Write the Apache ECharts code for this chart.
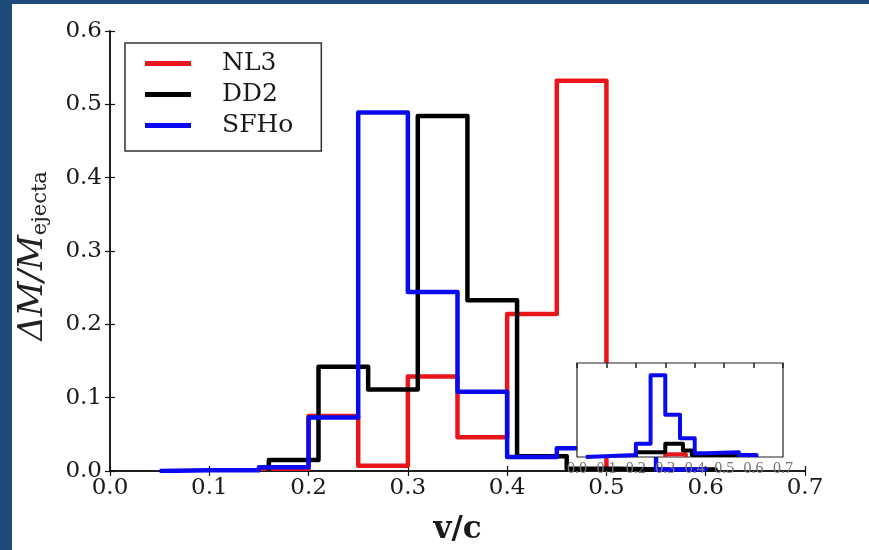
<!DOCTYPE html>
<html>
<head>
<meta charset="utf-8">
<script src="https://cdn.jsdelivr.net/npm/echarts@6/dist/echarts.min.js"></script>
<style>
html,body{margin:0;padding:0;background:#1f4a7c;}
#chart{width:869px;height:550px;}
</style>
</head>
<body>
<div id="chart"></div>
<script>
// ---- data (bin edges and bin values) ----
const seriesNames = ['NL3', 'DD2', 'SFHo'];
const edgesNL3 = [0.15, 0.20, 0.25, 0.30, 0.35, 0.40, 0.45, 0.50];
const valsNL3  = [0.003, 0.075, 0.007, 0.129, 0.046, 0.214, 0.532];
const edgesDD2 = [0.16, 0.21, 0.26, 0.31, 0.36, 0.41, 0.46, 0.51, 0.56, 0.61];
const valsDD2  = [0.015, 0.142, 0.111, 0.484, 0.233, 0.020, 0.003, 0.002, 0.002];
const edgesSFHo = [0.05, 0.10, 0.15, 0.20, 0.25, 0.30, 0.35, 0.40, 0.45, 0.50, 0.55, 0.60];
const valsSFHo  = [0.001, 0.001, 0.005, 0.073, 0.489, 0.244, 0.108, 0.019, 0.031, 0.031, 0.002];

// inset (arbitrary units, no y labels)
const insetEdgesNL3 = [0.30, 0.37];
const insetValsNL3  = [0.03];
const insetEdgesDD2 = [0.20, 0.30, 0.36, 0.39, 0.45, 0.60];
const insetValsDD2  = [0.05, 0.14, 0.07, 0.02, 0.02];
const insetEdgesSFHo = [0.03, 0.20, 0.25, 0.30, 0.35, 0.40, 0.44, 0.55, 0.61];
const insetValsSFHo  = [0.02, 0.14, 0.87, 0.45, 0.20, 0.04, 0.05, 0.02];

const xTicks = ['0.0','0.1','0.2','0.3','0.4','0.5','0.6','0.7'];
const yTicks = ['0.0','0.1','0.2','0.3','0.4','0.5','0.6'];

const colors = ['#e8161b', '#000000', '#0a0af0'];

function stepPoints(edges, vals) {
  const pts = [[edges[0], 0]];
  for (let i = 0; i < vals.length; i++) pts.push([edges[i], vals[i]]);
  pts.push([edges[edges.length - 1], 0]);
  return pts;
}

const serif = 'DejaVu Serif';
const chart = echarts.init(document.getElementById('chart'));

function mainSeries(name, edges, vals, color) {
  return {
    name: name, type: 'line', step: 'end', xAxisIndex: 0, yAxisIndex: 0,
    data: stepPoints(edges, vals), showSymbol: false, symbol: 'none',
    lineStyle: {color: color, width: 4.5, join: 'round'}, itemStyle: {color: color},
    z: 2, animation: false
  };
}
function insetSeries(edges, vals, color) {
  return {
    type: 'line', step: 'end', xAxisIndex: 2, yAxisIndex: 2,
    data: stepPoints(edges, vals), showSymbol: false, symbol: 'none',
    lineStyle: {color: color, width: 4, join: 'round'},
    z: 12, animation: false, silent: true
  };
}

chart.setOption({
  animation: false,
  backgroundColor: 'transparent',
  graphic: [
    {type: 'rect', shape: {x: 12, y: 4, width: 857, height: 546}, style: {fill: '#ffffff'}, z: -10, silent: true},
    {type: 'text', x: 33, y: 256, rotation: Math.PI / 2, z: 5,
     style: {
       text: '{a|ΔM/M}{b|ejecta}',
       align: 'center', verticalAlign: 'middle',
       rich: {
         a: {fontFamily: serif, fontStyle: 'italic', fontSize: 34, fill: '#222', lineHeight: 40},
         b: {fontFamily: serif, fontSize: 21, fill: '#222', lineHeight: 40, padding: [16, 0, 0, 0]}
       }
     }}
  ],
  legend: {
    orient: 'vertical', left: 125, top: 43,
    data: seriesNames,
    icon: 'rect', itemWidth: 46, itemHeight: 5, itemGap: 6,
    padding: [8, 28, 13, 20],
    borderColor: '#333', borderWidth: 1.5, backgroundColor: '#fff',
    textStyle: {fontFamily: serif, fontSize: 25, color: '#1a1a1a', lineHeight: 24, padding: [0, 0, 0, 26]},
    z: 8
  },
  grid: [
    {left: 110, right: 64, top: 31, bottom: 74, containLabel: false},
    {left: 577, width: 206, top: 363, height: 94, show: true, backgroundColor: '#fff', borderColor: '#222', borderWidth: 1.2, z: 10}
  ],
  xAxis: [
    {type: 'value', gridIndex: 0, min: 0, max: 0.7, interval: 0.1, position: 'bottom',
     name: 'v/c', nameLocation: 'middle', nameGap: 43,
     nameTextStyle: {fontFamily: serif, fontWeight: 'bold', fontSize: 31, color: '#1a1a1a'},
     axisLine: {lineStyle: {color: '#111', width: 1.5}},
     axisTick: {inside: true, length: 5, lineStyle: {color: '#111', width: 1.2}},
     axisLabel: {formatter: v => xTicks[Math.round(v * 10)], fontFamily: serif, fontSize: 23, color: '#1a1a1a', margin: 6},
     splitLine: {show: false}},
    {type: 'value', gridIndex: 0, min: 0, max: 0.7, interval: 0.1, position: 'top',
     axisLine: {lineStyle: {color: '#111', width: 1.5}},
     axisTick: {inside: true, length: 5, lineStyle: {color: '#111', width: 1.2}},
     axisLabel: {show: false}, splitLine: {show: false}},
    {type: 'value', gridIndex: 1, min: 0, max: 0.7, interval: 0.1, position: 'bottom', z: 11,
     axisLine: {show: false},
     axisTick: {show: false},
     axisLabel: {formatter: v => xTicks[Math.round(v * 10)], fontFamily: 'Liberation Serif', fontSize: 16, color: '#777', margin: 4},
     splitLine: {show: false}},
    {type: 'value', gridIndex: 1, min: 0, max: 0.7, interval: 0.1, position: 'top', z: 11,
     axisLine: {show: false},
     axisTick: {inside: true, length: 5, lineStyle: {color: '#222', width: 1.5}},
     axisLabel: {show: false}, splitLine: {show: false}}
  ],
  yAxis: [
    {type: 'value', gridIndex: 0, min: 0, max: 0.6, interval: 0.1, position: 'left',
     axisLine: {lineStyle: {color: '#111', width: 1.5}},
     axisTick: {inside: true, length: 5, lineStyle: {color: '#111', width: 1.2}},
     axisLabel: {formatter: v => yTicks[Math.round(v * 10)], fontFamily: serif, fontSize: 23, color: '#1a1a1a', margin: 8},
     splitLine: {show: false}},
    {type: 'value', gridIndex: 0, min: 0, max: 0.6, interval: 0.1, position: 'right',
     axisLine: {lineStyle: {color: '#111', width: 1.5}},
     axisTick: {inside: true, length: 5, lineStyle: {color: '#111', width: 1.2}},
     axisLabel: {show: false}, splitLine: {show: false}},
    {type: 'value', gridIndex: 1, min: 0, max: 1, position: 'left', z: 11,
     axisLine: {show: false}, axisTick: {show: false}, axisLabel: {show: false}, splitLine: {show: false}}
  ],
  series: [
    mainSeries('NL3', edgesNL3, valsNL3, colors[0]),
    mainSeries('DD2', edgesDD2, valsDD2, colors[1]),
    mainSeries('SFHo', edgesSFHo, valsSFHo, colors[2]),
    insetSeries(insetEdgesNL3, insetValsNL3, colors[0]),
    insetSeries(insetEdgesDD2, insetValsDD2, colors[1]),
    insetSeries(insetEdgesSFHo, insetValsSFHo, colors[2])
  ]
});
</script>
</body>
</html>
